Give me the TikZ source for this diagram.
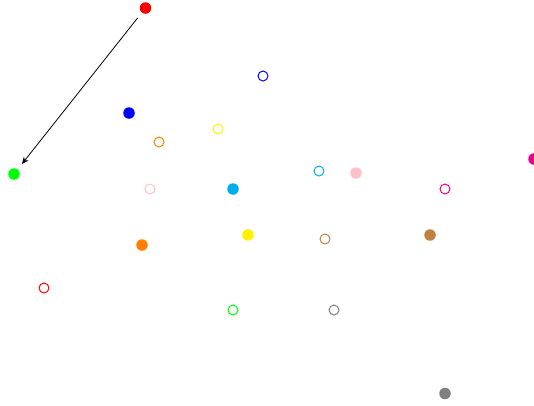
\documentclass[tikz,border=0pt]{standalone}
\usetikzlibrary{arrows.meta}
\definecolor{ccyan}{RGB}{0,174,239}
\definecolor{cmagenta}{RGB}{236,0,140}
\definecolor{cyellow}{RGB}{255,242,0}
\definecolor{corange}{RGB}{255,128,0}
\definecolor{cbrown}{RGB}{191,128,64}
\definecolor{cpink}{RGB}{255,192,203}
\definecolor{cgray}{RGB}{128,128,128}
\definecolor{cred}{RGB}{255,0,0}
\definecolor{cgreen}{RGB}{0,255,0}
\definecolor{cblue}{RGB}{0,0,255}
\tikzset{
  dotf/.style={circle,inner sep=0pt,minimum size=11.5pt,fill=#1,draw=none},
  doto/.style={circle,inner sep=0pt,minimum size=10pt,draw=#1,line width=1pt,fill=none},
}
\begin{document}
\begin{tikzpicture}[x=1pt,y=-1pt]
\useasboundingbox (0,0) rectangle (534,405);
% filled dots
\node[dotf=cred] (fred) at (145.5,8) {};
\node[dotf=cblue] (fblue) at (129,113) {};
\node[dotf=cgreen] (fgreen) at (14,174) {};
\node[dotf=ccyan] (fcyan) at (233,189) {};
\node[dotf=cpink] (fpink) at (356,173) {};
\node[dotf=cmagenta] (fmagenta) at (534,159) {};
\node[dotf=cyellow] (fyellow) at (248,235) {};
\node[dotf=corange] (forange) at (142,245) {};
\node[dotf=cbrown] (fbrown) at (430,235) {};
\node[dotf=cgray] (fgray) at (445,393.5) {};
% open dots
\node[doto=cblue] (oblue) at (263,76) {};
\node[doto=cyellow] (oyellow) at (218,129) {};
\node[doto=corange] (oorange) at (159,142) {};
\node[doto=cpink] (opink) at (150,189) {};
\node[doto=ccyan] (ocyan) at (319,171) {};
\node[doto=cmagenta] (omagenta) at (445,189) {};
\node[doto=cbrown] (obrown) at (325,239) {};
\node[doto=cred] (ored) at (44,288) {};
\node[doto=cgreen] (ogreen) at (233,310) {};
\node[doto=cgray] (ogray) at (334,310) {};
% arrow
\draw[-{Stealth[length=7pt,width=6pt]},line width=0.8pt,shorten <=6.8pt,shorten >=6.8pt] (fred) -- (fgreen);
\end{tikzpicture}
\end{document}
